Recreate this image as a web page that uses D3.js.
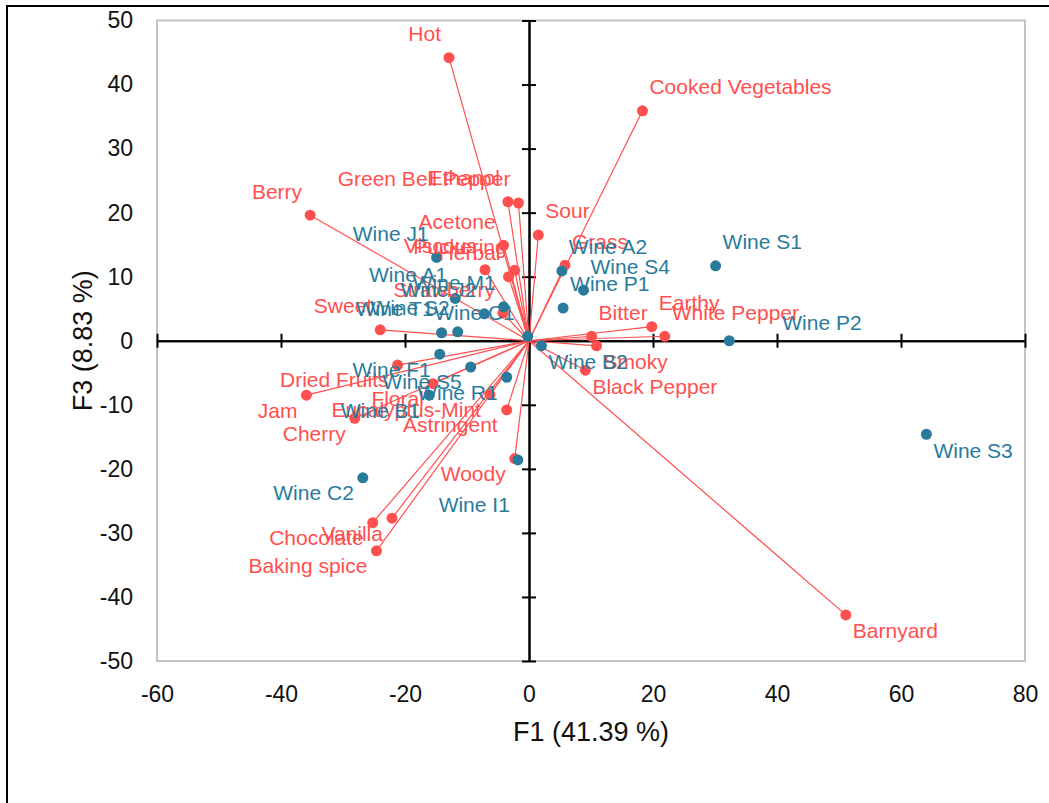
<!DOCTYPE html>
<html><head><meta charset="utf-8">
<script src="https://cdn.jsdelivr.net/npm/d3@7"></script>
<style>
html,body{margin:0;padding:0;background:#fff;}
svg{display:block;font-family:"Liberation Sans",Arial,Helvetica,sans-serif;}
</style></head>
<body>
<svg id="chart" width="1049" height="803"></svg>
<script>
// ---- data (F1, F3 coordinates) ----
const varNames = ["Hot","Cooked Vegetables","Berry","Green Bell Pepper","Ethanol","Sour","Acetone","Viscous","Puckering","Herbal","Strawberry","Sweet","Dried Fruits","Jam","Cherry","Floral","Eucalyptus-Mint","Astringent","Woody","Chocolate","Vanilla","Baking spice","Barnyard","Grass","Bitter","Smoky","Black Pepper","Earthy","White Pepper"];
const varF1 = [-12.9,18.3,-35.3,-1.7,-3.4,1.5,-4.1,-7.1,-2.3,-3.3,-4.2,-24.0,-21.2,-35.9,-28.1,-15.5,-6.3,-3.6,-2.3,-25.2,-22.1,-24.6,51.1,5.8,10.1,10.9,9.1,19.8,21.9];
const varF3 = [44.2,35.9,19.6,21.5,21.7,16.5,14.9,11.1,11.0,10.0,4.3,1.7,-3.8,-8.5,-12.1,-6.7,-8.4,-10.8,-18.4,-28.4,-27.7,-32.8,-42.8,11.8,0.7,-0.8,-4.6,2.2,0.7];

const obsNames = ["Wine S1","Wine P2","Wine S3","Wine A2","Wine S4","Wine P1","Wine B2","Wine C1","Wine I1","Wine C2","Wine J1","Wine A1","Wine M1","Wine J2","Wine T1","Wine S2","Wine F1","Wine S5","Wine R1","Wine B1"];
const obsF1 = [30.1,32.3,64.1,5.3,8.8,5.5,2.0,-0.2,-1.8,-26.8,-14.9,-11.9,-4.1,-7.2,-14.1,-11.5,-14.4,-9.4,-3.6,-16.1];
const obsF3 = [11.7,0.0,-14.6,10.9,7.9,5.1,-0.8,0.7,-18.6,-21.4,13.0,6.6,5.3,4.2,1.25,1.4,-2.1,-4.1,-5.7,-8.5];

const xTicks = [-60,-40,-20,0,20,40,60,80];
const yTicks = [-50,-40,-30,-20,-10,0,10,20,30,40,50];
const xTitle = "F1 (41.39 %)";
const yTitle = "F3 (8.83 %)";

// ---- label placement (pixel offsets, anchor) ----
const UL = [-8,-24,"end"], UR = [7,-24,"start"], LL = [-9,15,"end"], LR = [7,16,"start"];
const varPlace = {"Hot":UL,"Cooked Vegetables":UR,"Berry":UL,"Green Bell Pepper":UL,"Ethanol":UL,"Sour":UR,"Acetone":UL,"Viscous":UL,"Puckering":UL,"Herbal":UL,"Strawberry":UL,"Sweet":UL,"Dried Fruits":LL,"Jam":LL,"Cherry":LL,"Floral":LL,"Eucalyptus-Mint":LL,"Astringent":LL,"Woody":LL,"Chocolate":LL,"Vanilla":LL,"Baking spice":LL,"Barnyard":LR,"Grass":UR,"Bitter":UR,"Smoky":LR,"Black Pepper":LR,"Earthy":UR,"White Pepper":UR};
const obsPlace = {"Wine S1":UR,"Wine P2":[53,-18,"start"],"Wine S3":LR,"Wine A2":UR,"Wine S4":UR,"Wine P1":UR,"Wine B2":LR,"Wine C1":[-13,-24,"end"],"Wine I1":[-8,45,"end"],"Wine C2":LL,"Wine J1":UL,"Wine A1":UL,"Wine M1":UL,"Wine J2":UL,"Wine T1":UL,"Wine S2":UL,"Wine F1":LL,"Wine S5":LL,"Wine R1":LL,"Wine B1":LL};

const RED = "#ff4f4f", BLUE = "#2a7b9b";
const fmt = d => String(d);

const svg = d3.select("#chart");
const x = d3.scaleLinear().domain([-60,80]).range([157,1025]);
const y = d3.scaleLinear().domain([-50,50]).range([661,20.5]);

// outer frame
svg.append("rect").attr("x",7).attr("y",6).attr("width",1080).attr("height",900)
  .attr("fill","none").attr("stroke","#000").attr("stroke-width",2);

// plot border
svg.append("rect").attr("x",x(-60)).attr("y",y(50)).attr("width",x(80)-x(-60)).attr("height",y(-50)-y(50))
  .attr("fill","none").attr("stroke","#c4c4c4").attr("stroke-width",2);

// tick labels
const gx = svg.append("g").attr("transform",`translate(0,${y(-50)})`)
  .call(d3.axisBottom(x).tickValues(xTicks).tickSize(0).tickPadding(25).tickFormat(fmt));
const gy = svg.append("g").attr("transform",`translate(${x(-60)},0)`)
  .call(d3.axisLeft(y).tickValues(yTicks).tickSize(0).tickPadding(24).tickFormat(fmt));
[gx,gy].forEach(g=>{g.select(".domain").remove();g.selectAll("text").attr("font-size",23).attr("fill","#111").attr("font-family","Liberation Sans, Arial, sans-serif");});

// central axes with crosses
const cy1 = svg.append("g").attr("transform",`translate(${x(0)},0)`).call(d3.axisLeft(y).tickValues(yTicks).tickSize(7).tickSizeOuter(0).tickFormat(""));
const cy2 = svg.append("g").attr("transform",`translate(${x(0)},0)`).call(d3.axisRight(y).tickValues(yTicks).tickSize(7).tickSizeOuter(0).tickFormat(""));
const cx1 = svg.append("g").attr("transform",`translate(0,${y(0)})`).call(d3.axisTop(x).tickValues(xTicks).tickSize(7).tickSizeOuter(0).tickFormat(""));
const cx2 = svg.append("g").attr("transform",`translate(0,${y(0)})`).call(d3.axisBottom(x).tickValues(xTicks).tickSize(7).tickSizeOuter(0).tickFormat(""));
[cy1,cy2,cx1,cx2].forEach(g=>{g.selectAll("path,line").attr("stroke","#000").attr("stroke-width",2);});

// axis titles
svg.append("text").attr("x",(x(-60)+x(80))/2).attr("y",741).attr("text-anchor","middle")
  .attr("font-size",27).attr("fill","#111").text(xTitle);
svg.append("text").attr("transform",`translate(92,${(y(50)+y(-50))/2}) rotate(-90)`).attr("text-anchor","middle")
  .attr("font-size",27).attr("fill","#111").text(yTitle);

const vars = varNames.map((n,i)=>({name:n,f1:varF1[i],f3:varF3[i]}));
const obs = obsNames.map((n,i)=>({name:n,f1:obsF1[i],f3:obsF3[i]}));

// vectors
svg.append("g").selectAll("line").data(vars).join("line")
  .attr("x1",x(0)).attr("y1",y(0)).attr("x2",d=>x(d.f1)).attr("y2",d=>y(d.f3))
  .attr("stroke",RED).attr("stroke-width",1.2);

// variable points
svg.append("g").selectAll("circle").data(vars).join("circle")
  .attr("cx",d=>x(d.f1)).attr("cy",d=>y(d.f3)).attr("r",5.5).attr("fill",RED);
// observation points
svg.append("g").selectAll("circle").data(obs).join("circle")
  .attr("cx",d=>x(d.f1)).attr("cy",d=>y(d.f3)).attr("r",5.5).attr("fill",BLUE);

function labels(data, place, color){
  svg.append("g").selectAll("text").data(data).join("text")
    .attr("x",d=>x(d.f1)+place[d.name][0]).attr("y",d=>y(d.f3)+place[d.name][1])
    .attr("dy","0.35em").attr("text-anchor",d=>place[d.name][2])
    .attr("font-size",21).attr("fill",color).text(d=>d.name);
}
labels(vars,varPlace,RED);
labels(obs,obsPlace,BLUE);
</script>
</body></html>
